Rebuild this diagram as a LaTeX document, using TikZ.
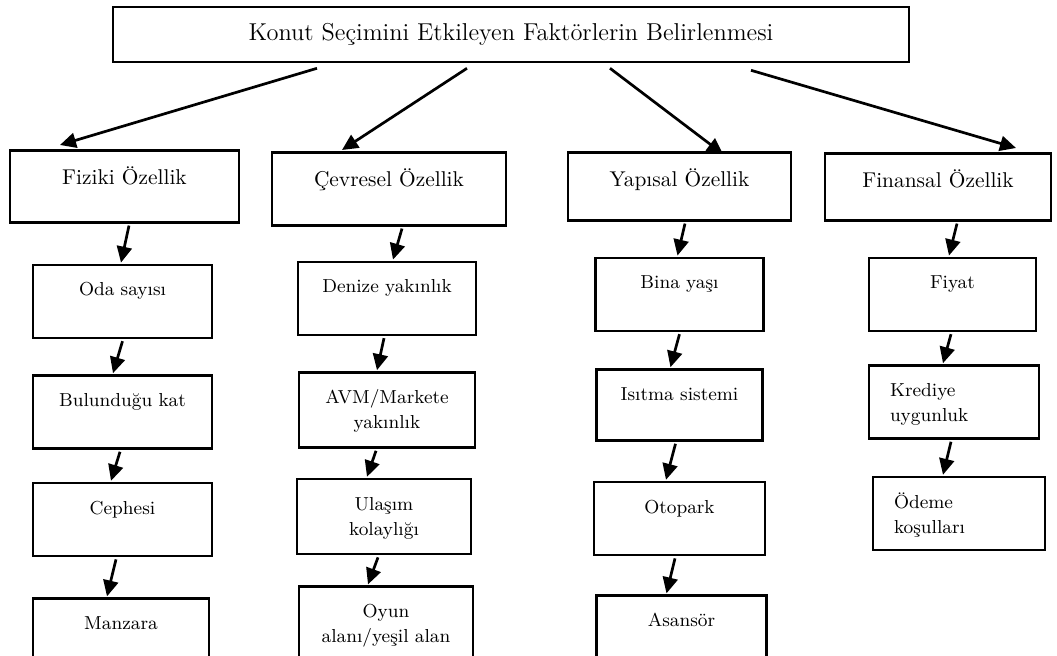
\documentclass[tikz,border=0pt]{standalone}
\usetikzlibrary{positioning,calc,arrows.meta}

\begin{document}
\begin{tikzpicture}[x=0.5pt, y=-0.5pt,
    title/.style={draw, line width=1.3pt, inner sep=0pt, minimum width=398pt, minimum height=27.5pt, font=\fontsize{12.2}{14}\selectfont},
    cat/.style={draw, line width=1.3pt, inner sep=0pt, align=center, text height=17pt, text depth=19pt, font=\fontsize{10.7}{13}\selectfont},
    leaf/.style={draw, line width=1.3pt, inner sep=0pt, align=center, text height=15.5pt, text depth=21pt, font=\fontsize{9.4}{12.5}\selectfont},
    arr/.style={line width=1.35pt, -{Triangle[length=8pt,width=7.5pt]}}]
    \useasboundingbox (0,0) rectangle (1057,656);

    \node[title] (top) at (511,34.5) {Konut Seçimini Etkileyen Faktörlerin Belirlenmesi};

    % factor groups
    \node[cat, text width=114.5pt, anchor=north] (fiz) at (124.5,149) {Fiziki Özellik};
    \node[cat, text width=117pt, text depth=19.5pt, anchor=north] (cev) at (389,151) {Çevresel Özellik};
    \node[cat, text width=111.5pt, text depth=17pt, anchor=north] (yap) at (679.5,151) {Yapısal Özellik};
    \node[cat, text width=113pt, text depth=16.5pt, anchor=north] (fin) at (938,152) {Finansal Özellik};

    % fiziki
    \node[leaf, text width=89.5pt, below=20pt of fiz, xshift=-1pt] (oda) {Oda sayısı};
    \node[leaf, text width=89.5pt, below=17.5pt of oda] (kat) {Bulunduğu kat};
    \node[leaf, text width=89.5pt, below=16pt of kat] (cep) {Cephesi};
    \node[leaf, text width=88pt, below=20pt of cep, xshift=-0.75pt] (man) {Manzara};

    % cevresel
    \node[leaf, text width=89pt, below=17pt of cev, xshift=-1pt] (den) {Denize yakınlık};
    \node[leaf, text width=88pt, text depth=22pt, below=17.5pt of den] (avm) {AVM/Markete\\yakınlık};
    \node[leaf, text width=87pt, text depth=22pt, below=14.5pt of avm, xshift=-1.5pt] (ula) {Ulaşım\\kolaylığı};
    \node[leaf, text width=87pt, text depth=23.5pt, below=15pt of ula, xshift=1pt] (oyn) {Oyun\\alanı/yeşil alan};

    % yapisal
    \node[leaf, text width=84pt, below=17.5pt of yap] (bin) {Bina yaşı};
    \node[leaf, text width=83pt, text depth=20pt, below=18pt of bin] (isi) {Isıtma sistemi};
    \node[leaf, text width=85.5pt, below=19.5pt of isi] (oto) {Otopark};
    \node[leaf, text width=85pt, below=19pt of oto, xshift=1pt] (asa) {Asansör};

    % finansal
    \node[leaf, text width=83.5pt, below=17.5pt of fin, xshift=7.25pt] (fiy) {Fiyat};
    \node[leaf, align=left, inner xsep=10.5pt, text width=64pt, below=16pt of fiy, xshift=0.75pt] (kre) {Krediye\\uygunluk};
    \node[leaf, align=left, inner xsep=10.5pt, text width=65pt, below=18pt of kre, xshift=2.5pt] (ode) {Ödeme\\koşulları};

    \draw[arr] ($(top.south)+(-194,5)$) -- ($(fiz.north)+(-64.5,-4)$);
    \draw[arr] ($(top.south)+(-44,5)$) -- ($(cev.north)+(-47,-1)$);
    \draw[arr] ($(top.south)+(99,5)$) -- ($(yap.north)+(43.5,3)$);
    \draw[arr] ($(top.south)+(240,7)$) -- ($(fin.north)+(78,-4)$);

    \foreach \a/\b/\s/\e in {fiz/oda/4.5/-1.5, oda/kat/0/-9.5, kat/cep/-2.5/-11.5, cep/man/-6.5/-14,
        cev/den/13/6, den/avm/-3/-10, avm/ula/-11/-17, ula/oyn/-6/-18,
        yap/bin/5.5/-2, bin/isi/0/-9, isi/oto/-4/-13.5, oto/asa/-4.5/-15,
        fin/fiy/19/-3.5, fiy/kre/-1.5/-11, kre/ode/-3/-16}
      \draw[arr] ($(\a.south)+(\s,2)$) -- ($(\b.north)+(\e,-1)$);
\end{tikzpicture}
\end{document}
